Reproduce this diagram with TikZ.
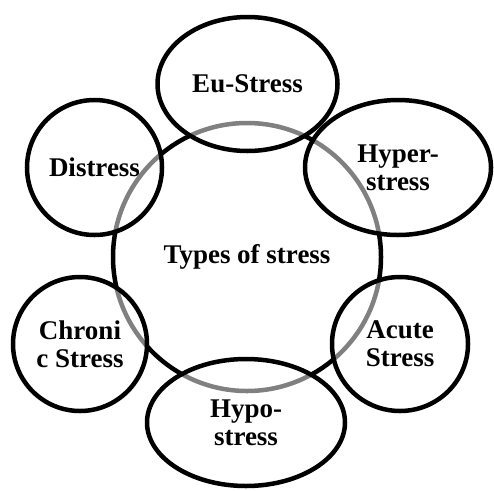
\documentclass[tikz,border=0pt]{standalone}
\usepackage{fontspec}
\setmainfont{Liberation Serif}
\usepackage{tikz}
\usetikzlibrary{shapes.geometric, positioning}

\tikzset{
    bubble/.style={draw, ellipse, line width=4.5pt, inner sep=0pt,
        fill=white, fill opacity=0.5, text opacity=1, align=center,
        font=\fontsize{27}{28}\selectfont\bfseries}
}

\begin{document}
\begin{tikzpicture}[x=1pt, y=-1pt]
\useasboundingbox (0,0) rectangle (494,490);

\node[draw, circle, line width=4.5pt, inner sep=0pt,
    minimum size=268pt,
    font=\fontsize{27}{28}\selectfont\bfseries] at (247,257) (block1) {Types of stress};

\node[bubble, minimum width=180pt, minimum height=134pt] at (247.5,84) (block2) {Eu-Stress};

\node[bubble, minimum width=135pt, minimum height=135pt] at (94.5,167.5) (block3) {Distress};

\node[bubble, minimum width=186pt, minimum height=135pt] at (398,167.5) (block4) {Hyper-\\stress};

\node[bubble, minimum width=134pt, minimum height=134pt] at (80,344) (block5) {Chroni\\c Stress};

\node[bubble, minimum width=136pt, minimum height=134pt] at (400,344) (block6) {Acute\\Stress};

\node[bubble, minimum width=198pt, minimum height=127pt] at (246,422.5) (block7) {Hypo-\\stress};

\end{tikzpicture}
\end{document}
